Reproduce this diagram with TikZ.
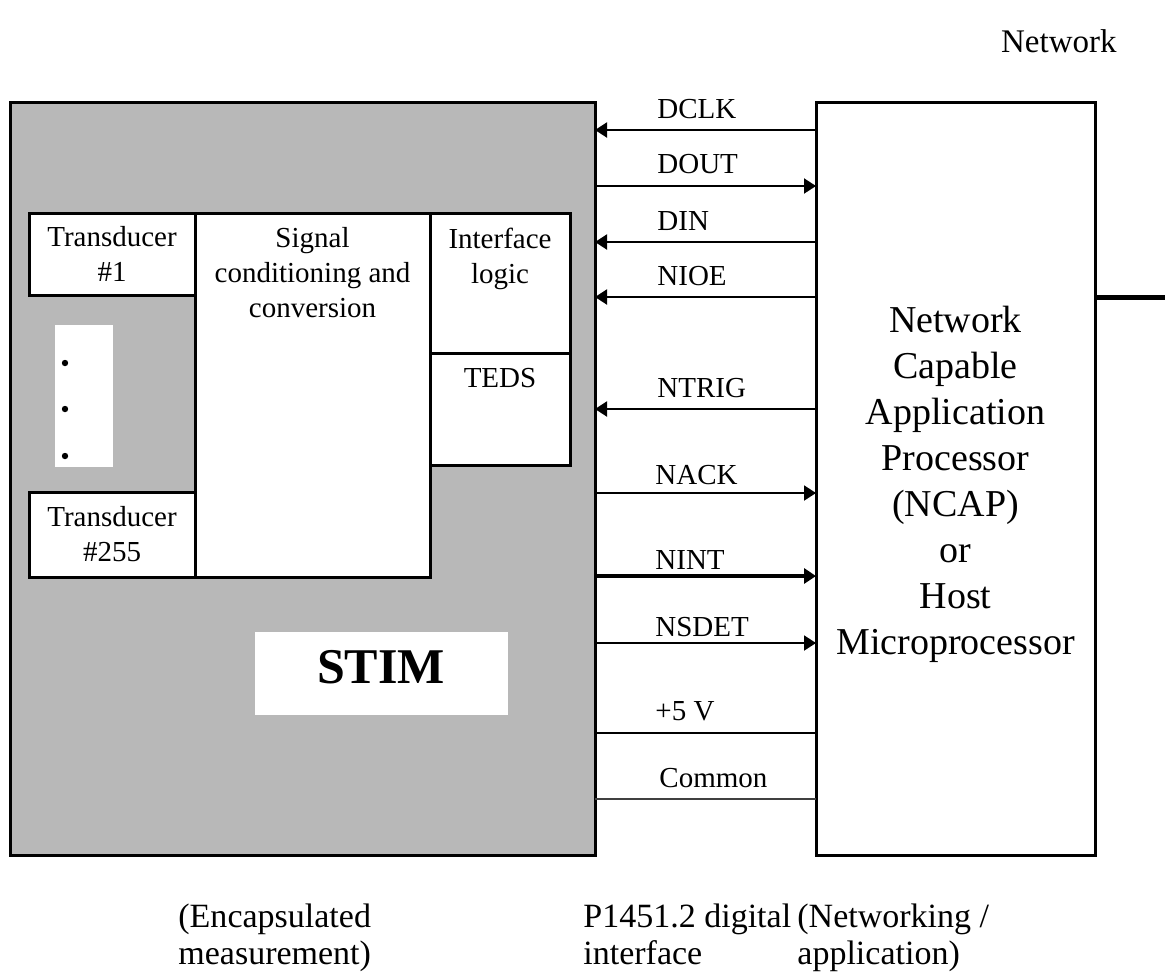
\documentclass[tikz,border=0pt]{standalone}
\usepackage{fontspec}
\setmainfont{Liberation Serif}
\usetikzlibrary{arrows.meta}
\begin{document}
\begin{tikzpicture}[x=0.5pt,y=-0.5pt,
  blk/.style={draw=black, line width=1.5pt, fill=white, inner sep=0pt, outer sep=0pt, anchor=north west},
  txt/.style={inner sep=0pt, font=\fontsize{14.5}{17.5}\selectfont, align=center},
  sig/.style={line width=1pt},
  tipl/.style={{Triangle[length=6pt,width=7.5pt]}-},
  tipr/.style={-{Triangle[length=6pt,width=7.5pt]}},
  lbl/.style={inner sep=0pt, anchor=base west, font=\fontsize{14.5}{17.5}\selectfont},
  bot/.style={inner sep=0pt, anchor=north west, align=left, font=\fontsize{17}{18.5}\selectfont},
  dot/.style={circle, fill=black, inner sep=0pt, minimum size=3.2pt},
]
\useasboundingbox (0,0) rectangle (1165,976);

% STIM enclosure
\node[blk, fill=black!28, minimum width=292.5pt, minimum height=376.5pt] (stim) at (10,102) {};
\node[blk, minimum width=83pt, minimum height=41pt] (t1) at (29,213) {};
\node[blk, minimum width=117.5pt, minimum height=182pt] (sigc) at (195,213) {};
\node[blk, minimum width=70pt, minimum height=70pt] (ifl) at (430,213) {};
\node[blk, minimum width=70pt, minimum height=56pt] (teds) at (430,353) {};
\node[fill=white, inner sep=0pt, anchor=north west, minimum width=29pt, minimum height=71pt] (gap) at (55,325) {};
\node[blk, minimum width=83pt, minimum height=42.5pt] (t255) at (29,492) {};
\node[fill=white, inner sep=0pt, anchor=north west, minimum width=126.5pt, minimum height=41.5pt] (stimlbl) at (255,632) {};

\node[dot] (d1) at (65,363) {};
\node[dot] (d2) at (65,409) {};
\node[dot] (d3) at (65,456) {};

\node[txt] (t1txt) at (t1.center) {Transducer\\\#1};
\node[txt] (t255txt) at (t255.center) {Transducer\\\#255};
\node[txt, anchor=north] (sigtxt) at (312.5,227) {Signal\\conditioning and\\conversion};
\node[txt, anchor=north] (ifltxt) at (500,228) {Interface\\logic};
\node[txt, anchor=north] (tedstxt) at (500,368) {TEDS};
\node[inner sep=0pt, anchor=base, font=\fontsize{25}{30}\selectfont\bfseries] (stimtxt) at (381,683) {STIM};

% NCAP
\node[blk, minimum width=139.5pt, minimum height=376.5pt] (ncap) at (816,102) {};
\node[inner sep=0pt, anchor=north, align=center, font=\fontsize{19}{23}\selectfont] (ncaptxt) at (955.5,306)
  {Network\\Capable\\Application\\Processor\\(NCAP)\\or\\Host\\Microprocessor};

% signals
\draw[sig, tipl] (stim.east |- 0,130) -- (ncap.west |- 0,130);
\draw[sig, tipr] (stim.east |- 0,186) -- (ncap.west |- 0,186);
\draw[sig, tipl] (stim.east |- 0,242) -- (ncap.west |- 0,242);
\draw[sig, tipl] (stim.east |- 0,297) -- (ncap.west |- 0,297);
\draw[sig, tipl] (stim.east |- 0,409) -- (ncap.west |- 0,409);
\draw[sig, tipr] (stim.east |- 0,493) -- (ncap.west |- 0,493);
\draw[sig, tipr, line width=1.8pt] (stim.east |- 0,576) -- (ncap.west |- 0,576);
\draw[sig, tipr] (stim.east |- 0,643) -- (ncap.west |- 0,643);
\draw[sig, line width=0.8pt] (stim.east |- 0,733) -- (ncap.west |- 0,733);
\draw[sig, black!75] (stim.east |- 0,799) -- (ncap.west |- 0,799);

\node[lbl] (lDCLK) at (657,118) {DCLK};
\node[lbl] (lDOUT) at (657,173) {DOUT};
\node[lbl] (lDIN) at (657,230) {DIN};
\node[lbl] (lNIOE) at (657,285) {NIOE};
\node[lbl] (lNTRIG) at (657,397) {NTRIG};
\node[lbl] (lNACK) at (655,484) {NACK};
\node[lbl] (lNINT) at (655,569) {NINT};
\node[lbl] (lNSDET) at (655,636) {NSDET};
\node[lbl] (l5V) at (655,720) {+5 V};
\node[lbl] (lCommon) at (659,787) {Common};

% network
\coordinate (netend) at (1165,297);
\draw[line width=2.5pt] (ncap.east |- netend) -- (netend);
\node[inner sep=0pt, anchor=base east, font=\fontsize{16.5}{20}\selectfont] (netlbl) at (1117,52) {Network};

% bottom captions
\node[bot] (cap1) at (178,903) {(Encapsulated\\measurement)};
\node[bot] (cap2) at (583,903) {P1451.2 digital\\interface};
\node[bot] (cap3) at (797,903) {(Networking /\\application)};
\end{tikzpicture}
\end{document}
